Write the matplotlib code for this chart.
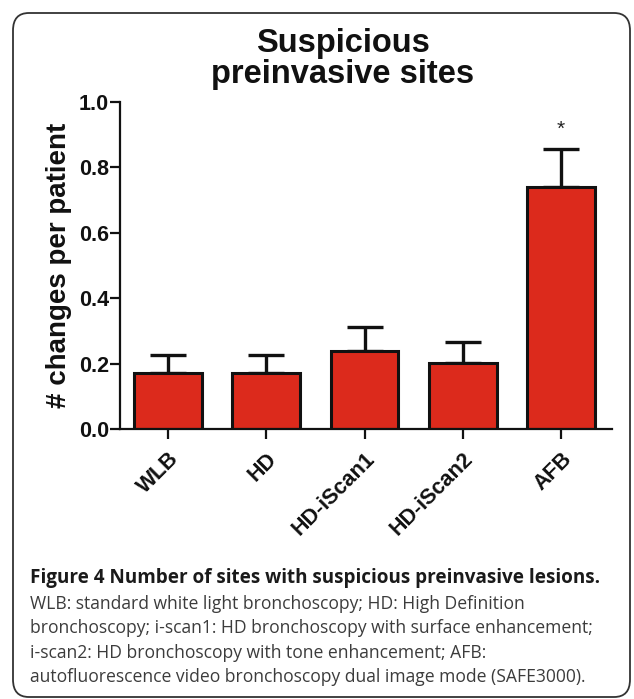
import numpy as np
import matplotlib.pyplot as plt
from matplotlib.patches import FancyBboxPatch

categories = ["WLB", "HD", "HD-iScan1", "HD-iScan2", "AFB"]
means = [0.172, 0.172, 0.239, 0.203, 0.739]
sem = [0.054, 0.054, 0.072, 0.064, 0.117]
star_label = "*"

W, H = 634, 699
fig = plt.figure(figsize=(W / 100, H / 100), dpi=100)

# rounded frame around the figure
frame = FancyBboxPatch((13 / W, 2 / H), (617 / W), (684 / H),
                       boxstyle="round,pad=0,rounding_size=0.025",
                       transform=fig.transFigure, fill=False,
                       edgecolor="#333333", linewidth=1.3)
fig.patches.append(frame)

ax = fig.add_axes([120 / W, 1 - 429 / H, 492 / W, 327 / H])
x = np.arange(len(categories))
ax.bar(x, means, width=0.69, color="#dc2a1c", edgecolor="#111111",
       linewidth=2.2, zorder=2)
ax.errorbar(x, means, yerr=[np.zeros(len(sem)), sem], fmt="none",
            ecolor="#111111", elinewidth=2.4, capsize=13, capthick=2.4,
            zorder=1)
ax.text(4, means[4] + sem[4] + 0.03, star_label, ha="center", va="bottom",
        fontsize=15, family="Liberation Sans", color="#222222")

ax.set_xlim(-0.49, 4.52)
ax.set_ylim(0, 1.0)
ax.set_yticks([0.0, 0.2, 0.4, 0.6, 0.8, 1.0])
ax.set_yticklabels(["0.0", "0.2", "0.4", "0.6", "0.8", "1.0"])
ax.set_xticks(x)
ax.set_xticklabels(categories, rotation=45, ha="right", va="top",
                   rotation_mode="anchor")
for lab in ax.get_xticklabels() + ax.get_yticklabels():
    lab.set_fontweight("bold")
    lab.set_fontsize(15.5)
    lab.set_family("Liberation Sans")
    lab.set_color("#111111")

for s in ["top", "right"]:
    ax.spines[s].set_visible(False)
for s in ["left", "bottom"]:
    ax.spines[s].set_linewidth(1.6)
    ax.spines[s].set_color("#111111")
ax.tick_params(axis="both", direction="out", length=7, width=1.6,
               color="#111111")
ax.tick_params(axis="x", pad=7)
ax.tick_params(axis="y", pad=1)

ax.set_ylabel("# changes per patient", fontsize=20, fontweight="bold",
              family="Liberation Sans", labelpad=5, color="#111111")

fig.text(343 / W, 1 - 52 / H, "Suspicious", ha="center", va="baseline",
         fontsize=23.5, fontweight="bold", family="Liberation Sans",
         color="#111111")
fig.text(343 / W, 1 - 83 / H, "preinvasive sites", ha="center",
         va="baseline", fontsize=23.5, fontweight="bold",
         family="Liberation Sans", color="#111111")

# caption: sizes fitted so a line spans the width seen in the reference
fig.canvas.draw()
renderer = fig.canvas.get_renderer()


def fitted(y, s, right, weight, color, size0):
    t = fig.text(30 / W, 1 - y / H, s, ha="left", va="baseline",
                 fontsize=size0, fontweight=weight, family="Open Sans",
                 color=color)
    w = t.get_window_extent(renderer).width
    t.set_fontsize(size0 * (right - 30) / w)
    return t


fitted(583, "Figure 4 Number of sites with suspicious preinvasive lesions.",
       596, "bold", "#1a1a1a", 13)
caption = ["WLB: standard white light bronchoscopy; HD: High Definition",
           "bronchoscopy; i-scan1: HD bronchoscopy with surface enhancement;",
           "i-scan2: HD bronchoscopy with tone enhancement; AFB:",
           "autofluorescence video bronchoscopy dual image mode (SAFE3000)."]
baselines = [609, 633, 658, 682]
ref = fitted(baselines[1], caption[1], 591, "normal", "#3c3c3c", 12)
size_ref = ref.get_fontsize()
for i, line in enumerate(caption):
    if i == 1:
        continue
    fig.text(30 / W, 1 - baselines[i] / H, line, ha="left", va="baseline",
             fontsize=size_ref, family="Open Sans", color="#3c3c3c")

fig.savefig("out.png", dpi=100)
